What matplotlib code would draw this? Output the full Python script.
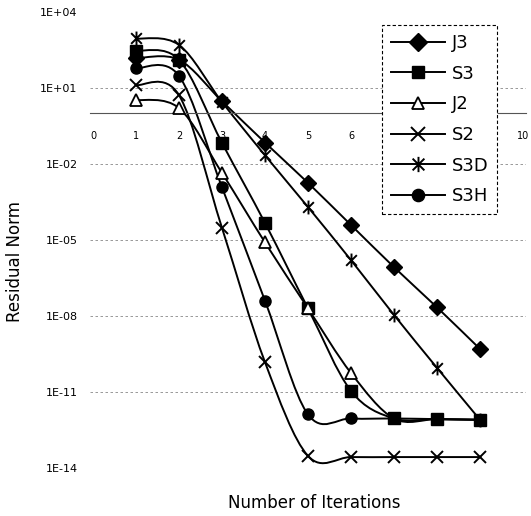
import numpy as np
from matplotlib import pyplot as plt
from matplotlib.path import Path
from matplotlib.patches import PathPatch
from matplotlib.lines import Line2D

# iteration number and residual norm for each solver
iters = [1, 2, 3, 4, 5, 6, 7, 8, 9]
j3 = [150, 130, 3.0, 0.07, 1.8e-3, 3.9e-5, 8.5e-7, 2.2e-8, 5e-10]
s3 = [300, 130, 0.068, 4.7e-5, 2e-8, 1.1e-11, 9e-13, 8.5e-13, 8e-13]
j2 = [3.4, 1.6, 0.0044, 8e-6, 2e-8, 5.6e-11, 9e-13, 8.5e-13, 8e-13]
s2 = [13, 5.2, 3e-5, 1.5e-10, 3e-14, 2.7e-14, 2.7e-14, 2.7e-14, 2.7e-14]
s3d = [900, 500, 2.8, 0.022, 2e-4, 1.6e-6, 1.1e-8, 9e-11, 8e-13]
s3h = [60, 30, 0.0012, 4e-8, 1.3e-12, 9e-13, 9e-13, 8.5e-13, 8e-13]

labels = ["J3", "S3", "J2", "S2", "S3D", "S3H"]
y_ticks = [1e-14, 1e-11, 1e-8, 1e-5, 1e-2, 1e1, 1e4]
y_tick_labels = ["1E-14", "1E-11", "1E-08", "1E-05", "1E-02", "1E+01", "1E+04"]
x_ticks = list(range(0, 11))

# asterisk marker: X plus a vertical bar
STAR = Path([(-1, -1), (1, 1), (-1, 1), (1, -1), (0, -1.3), (0, 1.3)],
            [Path.MOVETO, Path.LINETO] * 3)


def smooth_path(xs, ys):
    # excel style smoothed line, bezier through the points in log space
    pts = np.column_stack([np.array(xs, float), np.log10(ys)])
    n = len(pts)
    verts = [pts[0]]
    codes = [Path.MOVETO]
    for i in range(n - 1):
        p0 = pts[max(i - 1, 0)]
        p1 = pts[i]
        p2 = pts[i + 1]
        p3 = pts[min(i + 2, n - 1)]
        verts += [p1 + (p2 - p0) / 6, p2 - (p3 - p1) / 6, p2]
        codes += [Path.CURVE4] * 3
    verts = np.array(verts)
    verts[:, 1] = 10 ** verts[:, 1]
    return Path(verts, codes)


def main():
    fig = plt.figure(figsize=(5.31, 5.16), dpi=100)
    ax = fig.add_axes([90 / 531, 48 / 516, 436 / 531, 456 / 516])
    ax.set_yscale('log')
    ax.set_xlim(-0.07, 10.07)
    ax.set_ylim(1e-14, 1e4)

    # horizontal grid lines
    for yv in y_ticks[:-1]:
        ax.axhline(yv, color='#888888', lw=0.6, ls=(0, (3, 3)), zorder=0)

    series = [j3, s3, j2, s2, s3d, s3h]
    styles = [
        dict(marker='D', ms=8, mfc='black', mec='black'),
        dict(marker='s', ms=8, mfc='black', mec='black'),
        dict(marker='^', ms=8, mfc='white', mec='black', mew=1.3),
        dict(marker='x', ms=9, mfc='none', mec='black', mew=1.4),
        dict(marker=STAR, ms=10, mfc='none', mec='black', mew=1.4),
        dict(marker='o', ms=8, mfc='black', mec='black'),
    ]
    marker_z = [4, 5, 6, 6, 6, 3]
    every = [None, None, slice(0, 6), None, None, None]

    # plot the smoothed lines
    for vals in series:
        ax.add_patch(PathPatch(smooth_path(iters, vals), fill=False,
                               ec='black', lw=1.4, zorder=2))

    # plot the markers
    for vals, st, z, ev in zip(series, styles, marker_z, every):
        ax.plot(iters, vals, ls='none', zorder=z, markevery=ev, **st)

    # axes look
    for side in ['left', 'right', 'top']:
        ax.spines[side].set_visible(False)
    ax.spines['bottom'].set_position(('data', 1))
    ax.spines['bottom'].set_color('#555555')
    ax.spines['bottom'].set_linewidth(0.8)

    ax.set_xticks(x_ticks)
    ax.set_xticklabels([str(t) for t in x_ticks], fontsize=7)
    ax.tick_params(axis='x', length=0, pad=13)
    ax.set_yticks(y_ticks)
    ax.set_yticklabels(y_tick_labels, fontsize=8)
    ax.minorticks_off()
    ax.tick_params(axis='y', length=0, pad=9)

    fig.text(15 / 531, 1 - 262 / 516, "Residual Norm", rotation=90,
             ha='center', va='center', fontsize=12)
    fig.text(314 / 531, 1 - 503 / 516, "Number of Iterations",
             ha='center', va='center', fontsize=12)

    # legend
    handles = [Line2D([], [], color='black', lw=1.4, **st) for st in styles]
    leg = fig.legend(handles, labels, loc='upper left',
                     bbox_to_anchor=(382 / 531, 1 - 25 / 516),
                     fontsize=13, handlelength=3.0, handletextpad=0.35,
                     labelspacing=0.7, borderpad=0.5, borderaxespad=0,
                     fancybox=False, framealpha=1, markerscale=1.1)
    leg.get_frame().set_edgecolor('black')
    leg.get_frame().set_linewidth(0.8)
    leg.get_frame().set_linestyle((0, (3, 2)))

    plt.savefig("out.png", dpi=100)


if __name__ == "__main__":
    main()
